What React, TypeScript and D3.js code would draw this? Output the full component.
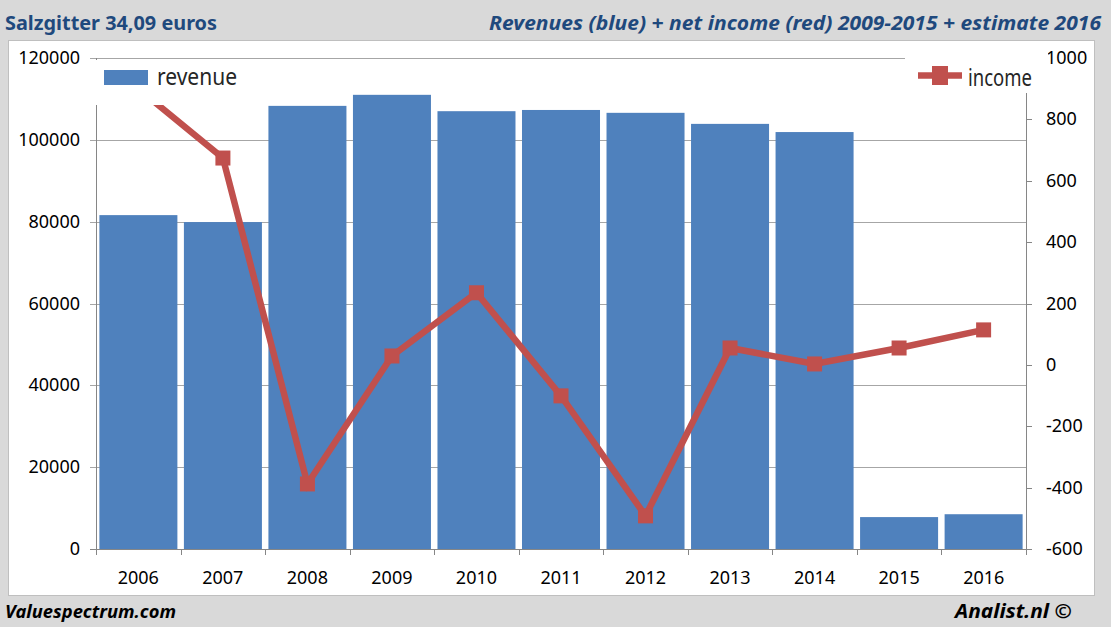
import React, { useEffect, useRef } from "react";
import * as d3 from "d3";

// values
const years = ["2006", "2007", "2008", "2009", "2010", "2011", "2012", "2013", "2014", "2015", "2016"];
const revenue = [81600, 79900, 108300, 111000, 107000, 107300, 106600, 103900, 101900, 7800, 8500];
const income = [900, 674, -388, 29, 235, -101, -492, 55, 3, 55, 114];
const revenueTicks = [0, 20000, 40000, 60000, 80000, 100000, 120000];
const incomeTicks = [-600, -400, -200, 0, 200, 400, 600, 800, 1000];

const W = 1111;
const H = 627;
const FONT = "'Noto Sans', 'Open Sans', sans-serif";

const App = () => {
  const ref = useRef<SVGSVGElement>(null);

  useEffect(() => {
    const svg = d3.select(ref.current);
    svg.selectAll("*").remove();

    const left = 96;
    const right = 1026;
    const top = 58;
    const bottom = 549;

    // background + white panel
    svg.append("rect").attr("width", W).attr("height", H).attr("fill", "#d9d9d9");
    svg
      .append("rect")
      .attr("x", 8.5)
      .attr("y", 40.5)
      .attr("width", 1086)
      .attr("height", 555)
      .attr("fill", "#fff")
      .attr("stroke", "#bfbfbf");

    let xCat = d3.scaleBand().domain(years).range([left, right]).padding(0);
    let xBar = d3
      .scaleBand()
      .domain(years)
      .range([left, right])
      .paddingInner(0.077)
      .paddingOuter(0.04);
    let yRev = d3.scaleLinear().domain([0, 120000]).range([bottom, top]);
    let yInc = d3.scaleLinear().domain([-600, 1000]).range([bottom, top]);

    // gridlines
    svg
      .append("g")
      .selectAll("line")
      .data(revenueTicks)
      .enter()
      .append("line")
      .attr("x1", left - 6)
      .attr("x2", right)
      .attr("y1", (d) => Math.round(yRev(d)) + 0.5)
      .attr("y2", (d) => Math.round(yRev(d)) + 0.5)
      .attr("stroke", (d) => (d === 0 ? "#868686" : "#a6a6a6"))
      .attr("stroke-width", 1);

    // bars
    svg
      .append("g")
      .selectAll("rect")
      .data(revenue)
      .enter()
      .append("rect")
      .attr("x", (d, i) => xBar(years[i]) as number)
      .attr("y", (d) => yRev(d))
      .attr("width", xBar.bandwidth())
      .attr("height", (d) => bottom - yRev(d))
      .attr("fill", "#4f81bd");

    // axes lines + ticks
    const axisColor = "#868686";
    svg
      .append("line")
      .attr("x1", left + 0.5)
      .attr("x2", left + 0.5)
      .attr("y1", top)
      .attr("y2", bottom)
      .attr("stroke", axisColor);
    svg
      .append("line")
      .attr("x1", right + 0.5)
      .attr("x2", right + 0.5)
      .attr("y1", top)
      .attr("y2", bottom)
      .attr("stroke", axisColor);
    svg
      .append("g")
      .selectAll("line")
      .data(incomeTicks)
      .enter()
      .append("line")
      .attr("x1", right)
      .attr("x2", right + 6)
      .attr("y1", (d) => Math.round(yInc(d)) + 0.5)
      .attr("y2", (d) => Math.round(yInc(d)) + 0.5)
      .attr("stroke", axisColor);
    svg
      .append("g")
      .selectAll("line")
      .data(years.concat(["end"]))
      .enter()
      .append("line")
      .attr("x1", (d, i) => Math.round(left + i * xCat.step()) + 0.5)
      .attr("x2", (d, i) => Math.round(left + i * xCat.step()) + 0.5)
      .attr("y1", bottom)
      .attr("y2", bottom + 6)
      .attr("stroke", axisColor);

    // income line
    const line = d3
      .line<number>()
      .x((d, i) => (xBar(years[i]) as number) + xBar.bandwidth() / 2)
      .y((d) => yInc(d));
    svg
      .append("path")
      .datum(income)
      .attr("d", line)
      .attr("fill", "none")
      .attr("stroke", "#c0504d")
      .attr("stroke-width", 6.5)
      .attr("stroke-linejoin", "miter");
    svg
      .append("g")
      .selectAll("rect")
      .data(income)
      .enter()
      .append("rect")
      .attr("x", (d, i) => (xBar(years[i]) as number) + xBar.bandwidth() / 2 - 7.5)
      .attr("y", (d) => yInc(d) - 7.5)
      .attr("width", 15)
      .attr("height", 15)
      .attr("fill", "#c0504d");

    // tick labels
    svg
      .append("g")
      .selectAll("text")
      .data(revenueTicks)
      .enter()
      .append("text")
      .attr("x", 80)
      .attr("y", (d) => yRev(d) + 6)
      .attr("text-anchor", "end")
      .attr("font-family", FONT)
      .attr("font-size", 18)
      .text((d) => d);
    svg
      .append("g")
      .selectAll("text")
      .data(incomeTicks)
      .enter()
      .append("text")
      .attr("x", 1046)
      .attr("y", (d) => yInc(d) + 6)
      .attr("font-family", FONT)
      .attr("font-size", 18)
      .text((d) => d);
    svg
      .append("g")
      .selectAll("text")
      .data(years)
      .enter()
      .append("text")
      .attr("x", (d) => (xCat(d) as number) + xCat.bandwidth() / 2)
      .attr("y", 584)
      .attr("text-anchor", "middle")
      .attr("font-family", FONT)
      .attr("font-size", 18)
      .text((d) => d);

    // legends (white boxes cover what lies below them)
    const revLegend = svg.append("g");
    revLegend.append("rect").attr("x", 92).attr("y", 60).attr("width", 158).attr("height", 45).attr("fill", "#fff");
    revLegend.append("rect").attr("x", 104).attr("y", 70).attr("width", 44).attr("height", 15).attr("fill", "#4f81bd");
    revLegend
      .append("text")
      .attr("x", 157)
      .attr("y", 85)
      .attr("font-family", FONT)
      .attr("font-size", 23)
      .attr("fill", "#262626")
      .attr("textLength", 80)
      .attr("lengthAdjust", "spacingAndGlyphs")
      .text("revenue");

    const incLegend = svg.append("g");
    incLegend.append("rect").attr("x", 905).attr("y", 48).attr("width", 143).attr("height", 45).attr("fill", "#fff");
    incLegend
      .append("line")
      .attr("x1", 918)
      .attr("x2", 962)
      .attr("y1", 75.5)
      .attr("y2", 75.5)
      .attr("stroke", "#c0504d")
      .attr("stroke-width", 6.5);
    incLegend.append("rect").attr("x", 932).attr("y", 66).attr("width", 16).attr("height", 19).attr("fill", "#c0504d");
    incLegend
      .append("text")
      .attr("x", 968)
      .attr("y", 86)
      .attr("font-family", FONT)
      .attr("font-size", 23)
      .attr("fill", "#262626")
      .attr("textLength", 64)
      .attr("lengthAdjust", "spacingAndGlyphs")
      .text("income");

    // titles and footer
    svg
      .append("text")
      .attr("x", 5)
      .attr("y", 30)
      .attr("font-family", FONT)
      .attr("font-weight", "bold")
      .attr("font-size", 20)
      .attr("fill", "#1f497d")
      .attr("textLength", 212)
      .attr("lengthAdjust", "spacingAndGlyphs")
      .text("Salzgitter 34,09 euros");
    svg
      .append("text")
      .attr("x", 489)
      .attr("y", 30)
      .attr("font-family", FONT)
      .attr("font-weight", "bold")
      .attr("font-style", "italic")
      .attr("font-size", 20)
      .attr("fill", "#1f497d")
      .attr("textLength", 612)
      .attr("lengthAdjust", "spacingAndGlyphs")
      .text("Revenues (blue) + net income (red) 2009-2015 + estimate 2016");
    svg
      .append("text")
      .attr("x", 5)
      .attr("y", 618)
      .attr("font-family", FONT)
      .attr("font-weight", "bold")
      .attr("font-style", "italic")
      .attr("font-size", 18)
      .attr("fill", "#000")
      .attr("textLength", 171)
      .attr("lengthAdjust", "spacingAndGlyphs")
      .text("Valuespectrum.com");
    svg
      .append("text")
      .attr("x", 955)
      .attr("y", 618)
      .attr("font-family", FONT)
      .attr("font-weight", "bold")
      .attr("font-style", "italic")
      .attr("font-size", 19)
      .attr("fill", "#000")
      .attr("textLength", 117)
      .attr("lengthAdjust", "spacingAndGlyphs")
      .text("Analist.nl ©");
  });

  return (
    <svg
      ref={ref}
      width={W}
      height={H}
      style={{ position: "absolute", left: 0, top: 0, display: "block" }}
    ></svg>
  );
};

export default App;
